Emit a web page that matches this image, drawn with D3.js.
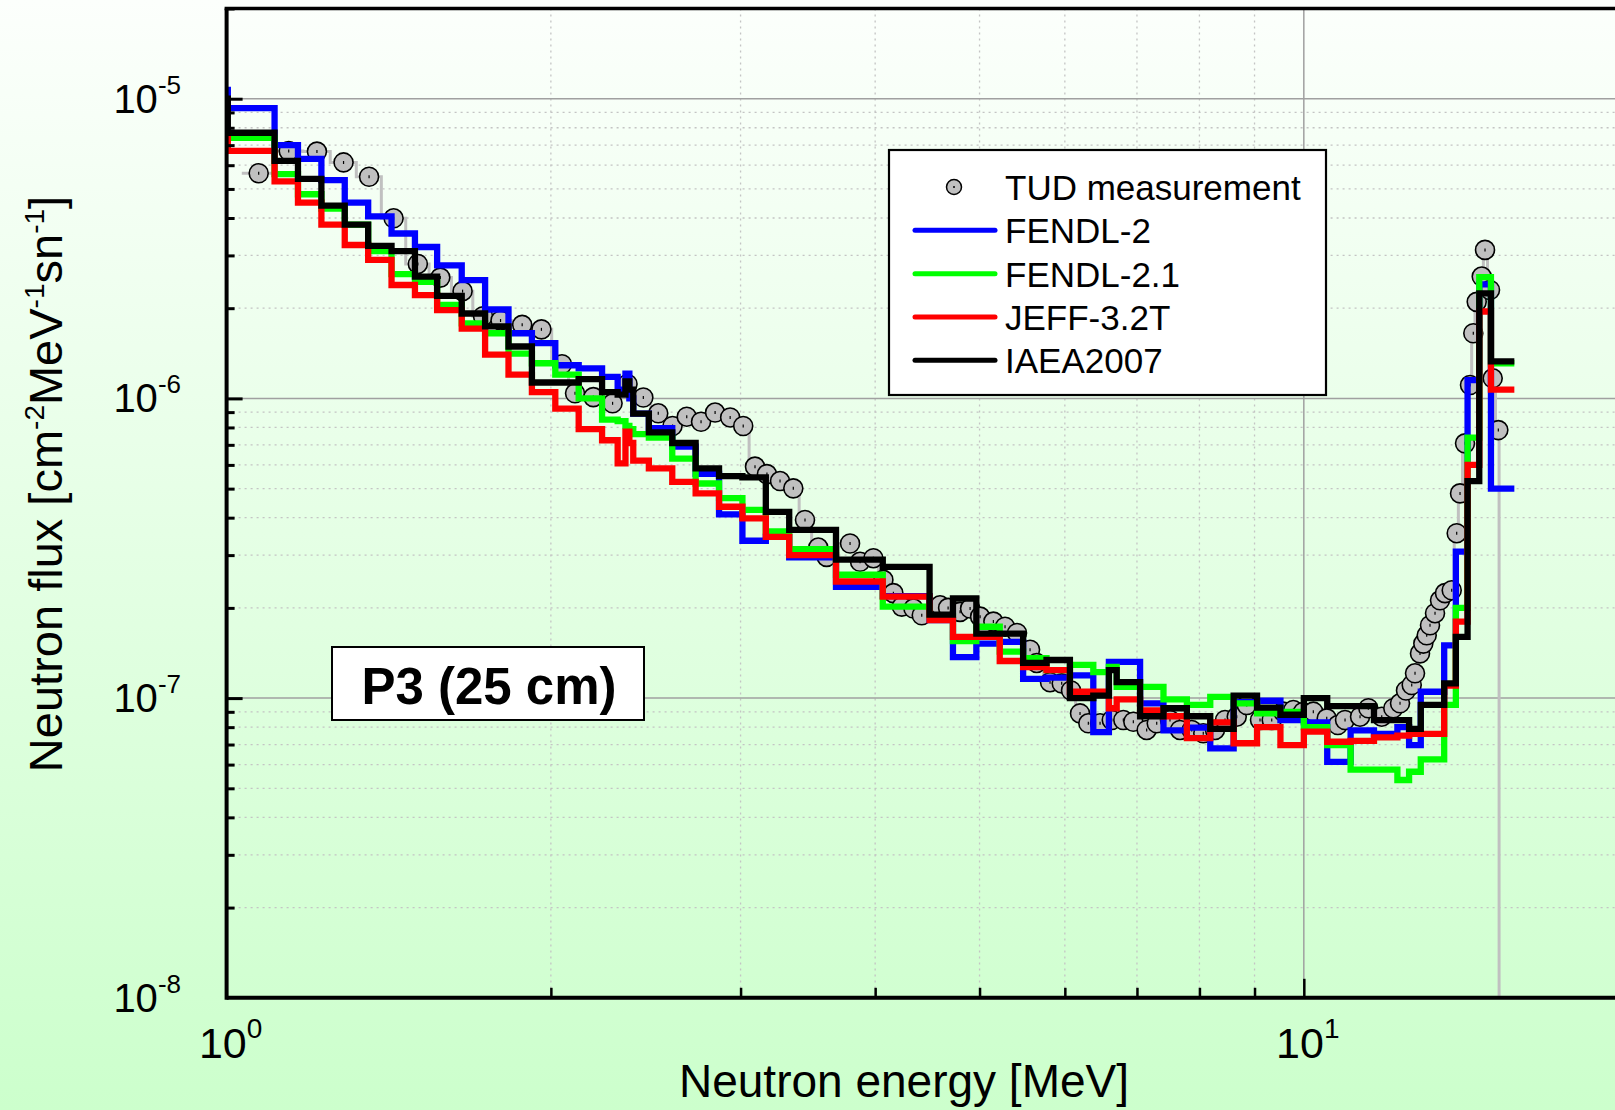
<!DOCTYPE html>
<html><head><meta charset="utf-8">
<script src="https://cdn.jsdelivr.net/npm/d3@7"></script>
<style>body{margin:0;overflow:hidden;background:#fff}</style>
</head><body>
<svg id="chart" width="1615" height="1110"></svg>
<script>
// ---------------- DATA ----------------
const binEdges = [0.9616,1.0026,1.1080,1.1648,1.2246,1.2873,1.3534,1.4227,1.4957,1.5683,
  1.6530,1.7377,1.8268,1.9205,2.0190,2.1225,2.2313,2.3069,2.3457,2.3653,
  2.3851,2.4660,2.5924,2.7253,2.8651,3.0119,3.1664,3.3287,3.6788,4.0657,
  4.4933,4.7237,4.9659,5.2205,5.4881,5.7695,6.0653,6.3763,6.5924,6.7032,
  7.0469,7.4082,7.7880,8.1873,8.6071,9.0484,9.5123,10.000,10.513,11.052,
  11.618,12.214,12.523,12.840,13.499,13.840,14.191,14.550,14.918,15.683];

const fendl2 = [1.07e-5,9.3e-6,7.0e-6,6.3e-6,5.35e-6,4.5e-6,4.05e-6,3.55e-6,3.2e-6,2.78e-6,
  2.48e-6,1.98e-6,1.65e-6,1.53e-6,1.29e-6,1.26e-6,1.18e-6,1.07e-6,1.21e-6,1.0e-6,
  8.9e-7,7.95e-7,6.9e-7,5.6e-7,4.1e-7,3.35e-7,3.45e-7,2.95e-7,2.35e-7,2.19e-7,
  1.82e-7,1.37e-7,1.52e-7,1.54e-7,1.16e-7,1.17e-7,1.19e-7,7.7e-8,1.32e-7,1.32e-7,
  9.6e-8,7.8e-8,7.97e-8,6.8e-8,9.7e-8,9.8e-8,8.45e-8,8.3e-8,6.13e-8,7.8e-8,
  7.6e-8,8.0e-8,6.97e-8,1.05e-7,1.5e-7,3.08e-7,1.15e-6,2.4e-6,5.0e-7];

const fendl21 = [7.8e-6,7.4e-6,5.6e-6,4.8e-6,4.3e-6,3.8e-6,3.1e-6,2.6e-6,2.45e-6,2.05e-6,
  1.78e-6,1.65e-6,1.41e-6,1.31e-6,1.2e-6,1.0e-6,8.5e-7,8.4e-7,8.1e-7,7.9e-7,
  7.6e-7,7.4e-7,6.3e-7,5.2e-7,4.65e-7,4.25e-7,3.6e-7,3.14e-7,2.58e-7,2.02e-7,
  1.88e-7,1.55e-7,1.73e-7,1.43e-7,1.36e-7,1.24e-7,1.29e-7,1.22e-7,1.27e-7,1.09e-7,
  1.09e-7,9.9e-8,9.5e-8,1.01e-7,9.6e-8,8.9e-8,9.0e-8,8.0e-8,6.97e-8,5.77e-8,
  5.77e-8,5.33e-8,5.68e-8,6.25e-8,9.5e-8,2.0e-7,7.4e-7,2.54e-6,1.31e-6];

const jeff32t = [7.5e-6,6.7e-6,5.3e-6,4.5e-6,3.8e-6,3.25e-6,2.9e-6,2.39e-6,2.21e-6,1.97e-6,
  1.71e-6,1.4e-6,1.2e-6,1.05e-6,9.25e-7,7.9e-7,7.25e-7,6.07e-7,7.75e-7,7.1e-7,
  6.2e-7,5.84e-7,5.27e-7,4.82e-7,4.35e-7,3.98e-7,3.45e-7,3.0e-7,2.45e-7,2.18e-7,
  1.82e-7,1.6e-7,1.6e-7,1.33e-7,1.27e-7,1.24e-7,1.05e-7,1.05e-7,9.25e-8,9.9e-8,
  9.1e-8,8.7e-8,7.35e-8,8.3e-8,7.07e-8,8.0e-8,6.97e-8,7.73e-8,7.15e-8,7.2e-8,
  7.4e-8,7.5e-8,7.6e-8,7.6e-8,1.1e-7,1.8e-7,6.0e-7,1.95e-6,1.07e-6];

const iaea2007 = [1.0e-5,7.7e-6,6.2e-6,5.4e-6,4.4e-6,3.8e-6,3.23e-6,3.1e-6,2.55e-6,2.2e-6,
  1.92e-6,1.74e-6,1.49e-6,1.13e-6,1.13e-6,1.16e-6,1.05e-6,1.03e-6,1.14e-6,1.07e-6,
  8.9e-7,7.7e-7,7.1e-7,5.84e-7,5.5e-7,5.45e-7,4.18e-7,3.64e-7,2.9e-7,2.74e-7,
  1.9e-7,2.15e-7,1.64e-7,1.64e-7,1.31e-7,1.34e-7,1.0e-7,1.02e-7,1.24e-7,1.13e-7,
  8.7e-8,9.25e-8,8.7e-8,7.9e-8,1.02e-7,9.3e-8,8.8e-8,1.0e-7,9.4e-8,9.4e-8,
  8.45e-8,8.45e-8,7.9e-8,9.5e-8,1.12e-7,1.6e-7,5.3e-7,2.24e-6,1.33e-6];

const tudEnergy = [1.071,1.142,1.213,1.284,1.356,1.429,1.505,1.579,1.656,1.730,
  1.796,1.881,1.960,2.048,2.106,2.190,2.282,2.356,2.437,2.516,
  2.594,2.674,2.757,2.841,2.934,3.017,3.094,3.174,3.264,3.358,
  3.443,3.542,3.606,3.791,3.873,3.985,4.071,4.159,4.234,4.341,
  4.419,4.595,4.675,4.796,4.900,5.006,5.150,5.280,5.417,5.570,
  5.650,5.813,5.960,6.080,6.198,6.309,6.469,6.633,6.799,6.946,
  7.147,7.302,7.512,7.675,7.869,8.066,8.271,8.450,8.664,8.851,
  9.106,9.337,9.568,9.778,9.983,10.205,10.502,10.754,10.921,11.277,
  11.479,11.812,12.108,12.283,12.441,12.594,12.683,12.819,12.910,13.004,
  13.096,13.237,13.379,13.523,13.718,13.865,13.964,14.114,14.265,14.366,
  14.471,14.627,14.730,14.888,14.974,15.155];

const tudFlux = [5.64e-6,6.69e-6,6.66e-6,6.13e-6,5.49e-6,3.99e-6,2.81e-6,2.53e-6,2.28e-6,1.88e-6,
  1.82e-6,1.76e-6,1.70e-6,1.30e-6,1.04e-6,1.01e-6,9.63e-7,1.117e-6,1.007e-6,8.92e-7,
  8.09e-7,8.69e-7,8.36e-7,8.97e-7,8.64e-7,8.09e-7,5.92e-7,5.59e-7,5.30e-7,5.01e-7,
  3.93e-7,3.18e-7,2.96e-7,3.28e-7,2.85e-7,2.93e-7,2.48e-7,2.24e-7,2.02e-7,1.99e-7,
  1.89e-7,2.04e-7,2.00e-7,1.94e-7,1.99e-7,1.87e-7,1.80e-7,1.73e-7,1.65e-7,1.45e-7,
  1.31e-7,1.13e-7,1.12e-7,1.06e-7,8.89e-8,8.24e-8,8.24e-8,8.45e-8,8.45e-8,8.34e-8,
  7.83e-8,8.24e-8,8.45e-8,7.83e-8,7.83e-8,7.63e-8,7.83e-8,8.45e-8,8.67e-8,9.48e-8,
  8.45e-8,8.45e-8,9.01e-8,9.13e-8,8.99e-8,9.01e-8,8.56e-8,8.13e-8,8.45e-8,8.67e-8,
  9.25e-8,8.67e-8,9.25e-8,9.61e-8,1.06e-7,1.106e-7,1.21e-7,1.41e-7,1.52e-7,1.62e-7,
  1.75e-7,1.92e-7,2.12e-7,2.24e-7,2.29e-7,3.55e-7,4.82e-7,7.08e-7,1.108e-6,1.65e-6,
  2.10e-6,2.55e-6,3.13e-6,2.30e-6,1.167e-6,7.84e-7];

const tudRange = [1.033, 15.18];

const xDomain = [1, 20];
const yDomain = [1e-8, 2e-5];
const xLabelTicks = [1, 10];
const xLabelExps = ["0", "1"];
const yLabelTicks = [1e-8, 1e-7, 1e-6, 1e-5];
const yLabelExps = ["-8", "-7", "-6", "-5"];

const seriesNames = ["FENDL-2", "FENDL-2.1", "JEFF-3.2T", "IAEA2007"];
const seriesColors = ["#0000ff", "#00ff00", "#ff0000", "#000000"];
const seriesData = [fendl2, fendl21, jeff32t, iaea2007];
const measName = "TUD measurement";
const boxLabel = "P3 (25 cm)";

// ---------------- LAYOUT ----------------
const W = 1615, H = 1110;
const x = d3.scaleLog().domain(xDomain).range([226.6, 1628.1]);
const y = d3.scaleLog().domain(yDomain).range([997.8, 8.5]);
const FONT = "'Liberation Sans', Arial, Helvetica, sans-serif";

const svg = d3.select("#chart");
const defs = svg.append("defs");
const grad = defs.append("linearGradient").attr("id", "bg").attr("x1", 0).attr("y1", 0).attr("x2", 0).attr("y2", 1);
grad.append("stop").attr("offset", "0%").attr("stop-color", "#fcfffc");
grad.append("stop").attr("offset", "100%").attr("stop-color", "#ccffcc");
svg.append("rect").attr("width", W).attr("height", H).attr("fill", "url(#bg)");

const px0 = x(xDomain[0]), py0 = y(yDomain[0]), py1 = y(yDomain[1]);
defs.append("clipPath").attr("id", "plotclip").append("rect")
  .attr("x", px0).attr("y", py1).attr("width", W - px0).attr("height", py0 - py1);

// grid
const grid = svg.append("g");
const minorY = [], majorY = [];
for (let n = -8; n <= -5; n++) {
  for (let k = 1; k <= 9; k++) {
    const v = k * Math.pow(10, n);
    if (v <= yDomain[0] * 1.0001 || v > yDomain[1] * 1.0001) continue;
    (k === 1 ? majorY : minorY).push(v);
  }
}
const minorX = [2,3,4,5,6,7,8,9];
const majorX = [10];
grid.selectAll(".gmy").data(minorY).join("line")
  .attr("x1", px0).attr("x2", W).attr("y1", d => y(d)).attr("y2", d => y(d))
  .attr("stroke", "#c4c4c4").attr("stroke-width", 1.3).attr("stroke-dasharray", "2,4");
grid.selectAll(".gmx").data(minorX).join("line")
  .attr("y1", py1).attr("y2", py0).attr("x1", d => x(d)).attr("x2", d => x(d))
  .attr("stroke", "#c4c4c4").attr("stroke-width", 1.3).attr("stroke-dasharray", "2,4");
grid.selectAll(".gMy").data(majorY).join("line")
  .attr("x1", px0).attr("x2", W).attr("y1", d => y(d)).attr("y2", d => y(d))
  .attr("stroke", "#a0a0a0").attr("stroke-width", 1.5);
grid.selectAll(".gMx").data(majorX).join("line")
  .attr("y1", py1).attr("y2", py0).attr("x1", d => x(d)).attr("x2", d => x(d))
  .attr("stroke", "#a0a0a0").attr("stroke-width", 1.5);

const plot = svg.append("g").attr("clip-path", "url(#plotclip)");

// measurement step line
const logMid = (a, b) => Math.sqrt(a * b);
const measPts = [];
for (let i = 0; i < tudEnergy.length; i++) {
  const e0 = i === 0 ? tudRange[0] : logMid(tudEnergy[i - 1], tudEnergy[i]);
  const e1 = i === tudEnergy.length - 1 ? tudRange[1] : logMid(tudEnergy[i], tudEnergy[i + 1]);
  measPts.push([x(e0), y(tudFlux[i])], [x(e1), y(tudFlux[i])]);
}
measPts.push([x(tudRange[1]), py0 + 20]);
plot.append("path").attr("d", d3.line()(measPts))
  .attr("fill", "none").attr("stroke", "#c0c0c0").attr("stroke-width", 3);

const tudG = plot.selectAll(".tud").data(tudEnergy).join("g");
tudG.append("circle")
  .attr("cx", d => x(d)).attr("cy", (d, i) => y(tudFlux[i])).attr("r", 9.5)
  .attr("fill", "#c0c0c0").attr("stroke", "#000").attr("stroke-width", 1.6);
tudG.append("line")
  .attr("x1", d => x(d)).attr("x2", d => x(d))
  .attr("y1", (d, i) => y(tudFlux[i]) - 1.5).attr("y2", (d, i) => y(tudFlux[i]) + 1.5)
  .attr("stroke", "#000").attr("stroke-width", 1.2);

// series step lines
seriesData.forEach((vals, s) => {
  const pts = [];
  const n = Math.min(vals.length, binEdges.length - 1);
  for (let i = 0; i < n; i++) {
    pts.push([x(binEdges[i]), y(vals[i])], [x(binEdges[i + 1]), y(vals[i])]);
  }
  plot.append("path").attr("d", d3.line()(pts))
    .attr("fill", "none").attr("stroke", seriesColors[s]).attr("stroke-width", 6.3)
    .attr("stroke-linejoin", "miter").attr("stroke-linecap", "butt");
});

// axes
const axG = svg.append("g");
axG.append("g").attr("transform", `translate(0,${py0})`)
  .call(d3.axisBottom(x).tickValues(minorX).tickSizeInner(-10).tickSizeOuter(0).tickFormat(""))
  .call(g => g.select(".domain").remove())
  .call(g => g.selectAll("line").attr("stroke", "#000").attr("stroke-width", 2.5));
axG.append("g").attr("transform", `translate(0,${py0})`)
  .call(d3.axisBottom(x).tickValues(majorX).tickSizeInner(-19).tickSizeOuter(0).tickFormat(""))
  .call(g => g.select(".domain").remove())
  .call(g => g.selectAll("line").attr("stroke", "#000").attr("stroke-width", 2.5));
axG.append("g").attr("transform", `translate(${px0},0)`)
  .call(d3.axisLeft(y).tickValues(minorY).tickSizeInner(-8).tickSizeOuter(0).tickFormat(""))
  .call(g => g.select(".domain").remove())
  .call(g => g.selectAll("line").attr("stroke", "#000").attr("stroke-width", 3));
axG.append("g").attr("transform", `translate(${px0},0)`)
  .call(d3.axisLeft(y).tickValues(majorY).tickSizeInner(-16).tickSizeOuter(0).tickFormat(""))
  .call(g => g.select(".domain").remove())
  .call(g => g.selectAll("line").attr("stroke", "#000").attr("stroke-width", 3));
axG.append("line").attr("x1", px0).attr("x2", W).attr("y1", py0).attr("y2", py0)
  .attr("stroke", "#000").attr("stroke-width", 4);
axG.append("line").attr("x1", px0).attr("x2", px0).attr("y1", py1).attr("y2", py0 + 2)
  .attr("stroke", "#000").attr("stroke-width", 4);
axG.append("line").attr("x1", px0 - 2).attr("x2", W).attr("y1", py1).attr("y2", py1)
  .attr("stroke", "#000").attr("stroke-width", 3.5);

// tick labels
const lab = svg.append("g").attr("font-family", FONT).attr("fill", "#000");
yLabelTicks.forEach((v, i) => {
  const t = lab.append("text").attr("x", 181).attr("y", y(v) + 14)
    .attr("text-anchor", "end").attr("font-size", 40);
  t.append("tspan").text("10");
  t.append("tspan").attr("dy", -19).attr("font-size", 26).text(yLabelExps[i]);
});
xLabelTicks.forEach((v, i) => {
  const t = lab.append("text").attr("x", x(v) + 4).attr("y", 1058)
    .attr("text-anchor", "middle").attr("font-size", 43);
  t.append("tspan").text("10");
  t.append("tspan").attr("dy", -20).attr("font-size", 28).text(xLabelExps[i]);
});

// axis titles
lab.append("text").attr("x", 904).attr("y", 1097).attr("text-anchor", "middle")
  .attr("font-size", 46).text("Neutron energy [MeV]");
const yt = lab.append("text").attr("transform", "translate(62,484) rotate(-90)")
  .attr("text-anchor", "middle").attr("font-size", 47);
yt.append("tspan").text("Neutron flux [cm");
yt.append("tspan").attr("dy", -18).attr("font-size", 28).text("-2");
yt.append("tspan").attr("dy", 18).text("MeV");
yt.append("tspan").attr("dy", -18).attr("font-size", 28).text("-1");
yt.append("tspan").attr("dy", 18).text("sn");
yt.append("tspan").attr("dy", -18).attr("font-size", 28).text("-1");
yt.append("tspan").attr("dy", 18).text("]");

// legend
const lg = svg.append("g").attr("font-family", FONT);
lg.append("rect").attr("x", 889).attr("y", 150).attr("width", 437).attr("height", 245)
  .attr("fill", "#fff").attr("stroke", "#000").attr("stroke-width", 2.2);
const rowY = [200, 243.3, 286.7, 330, 373.3];
lg.append("circle").attr("cx", 954).attr("cy", rowY[0] - 13).attr("r", 7.5)
  .attr("fill", "#c0c0c0").attr("stroke", "#000").attr("stroke-width", 1.5);
lg.append("circle").attr("cx", 954).attr("cy", rowY[0] - 13).attr("r", 1)
  .attr("fill", "#000");
lg.append("text").attr("x", 1005).attr("y", rowY[0]).attr("font-size", 35).text(measName);
seriesNames.forEach((nm, i) => {
  const ry = rowY[i + 1];
  lg.append("line").attr("x1", 915).attr("x2", 995).attr("y1", ry - 13).attr("y2", ry - 13)
    .attr("stroke", seriesColors[i]).attr("stroke-width", 5).attr("stroke-linecap", "round");
  lg.append("text").attr("x", 1005).attr("y", ry).attr("font-size", 35).text(nm);
});

// P3 box
const pb = svg.append("g").attr("font-family", FONT);
pb.append("rect").attr("x", 332).attr("y", 647).attr("width", 312).attr("height", 73)
  .attr("fill", "#fff").attr("stroke", "#000").attr("stroke-width", 2);
pb.append("text").attr("x", 489).attr("y", 704).attr("text-anchor", "middle")
  .attr("font-size", 51).attr("font-weight", "bold").text(boxLabel);
</script>
</body></html>
